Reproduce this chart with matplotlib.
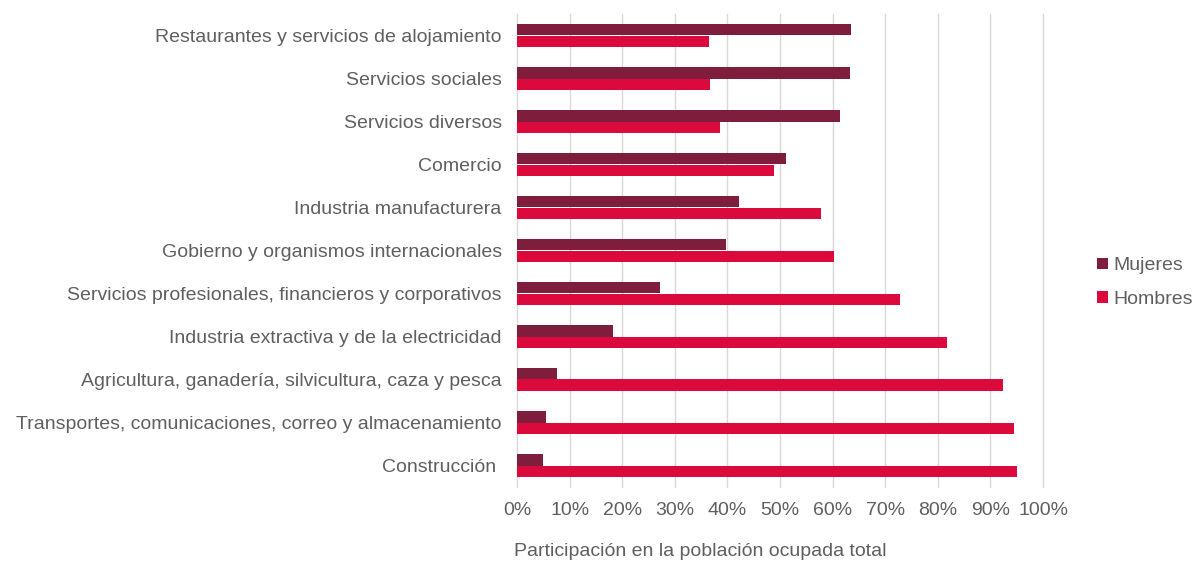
import numpy as np
import matplotlib.pyplot as plt
from matplotlib.ticker import PercentFormatter

plt.rcParams['font.family'] = ['Liberation Sans', 'DejaVu Sans']

sectores = [
    'Restaurantes y servicios de alojamiento',
    'Servicios sociales',
    'Servicios diversos',
    'Comercio',
    'Industria manufacturera',
    'Gobierno y organismos internacionales',
    'Servicios profesionales, financieros y corporativos',
    'Industria extractiva y de la electricidad',
    'Agricultura, ganadería, silvicultura, caza y pesca',
    'Transportes, comunicaciones, correo y almacenamiento',
    'Construcción ',
]
mujeres = [63.5, 63.3, 61.4, 51.1, 42.3, 39.7, 27.1, 18.2, 7.6, 5.5, 5.0]
hombres = [36.5, 36.7, 38.6, 48.9, 57.7, 60.3, 72.9, 81.8, 92.4, 94.5, 95.0]

c_muj = '#7F1E3C'
c_hom = '#DC0A3C'
gris = '#5F5F5F'
fs = 14

fig = plt.figure(figsize=(11.95, 5.61), dpi=100)
ax = fig.add_axes([517 / 1195, 1 - 487 / 561, (1043 - 517) / 1195, (487 - 14) / 561])

y = np.arange(len(sectores))
h = 0.275
ax.barh(y - h / 2, mujeres, height=h, color=c_muj, label='Mujeres', zorder=3)
ax.barh(y + h / 2, hombres, height=h, color=c_hom, label='Hombres', zorder=3)

ax.set_ylim(len(sectores) - 0.5, -0.5)
ax.set_xlim(0, 100)
ax.set_xticks(np.arange(0, 101, 10))
ax.xaxis.set_major_formatter(PercentFormatter(decimals=0))
ax.set_yticks(y)
ax.set_yticklabels(sectores)
ax.tick_params(axis='both', length=0, labelsize=fs, colors=gris)
ax.tick_params(axis='y', pad=11)
ax.tick_params(axis='x', pad=11)
ax.grid(axis='x', color='#D9D9D9', linewidth=1, zorder=0)
for gl in ax.get_xgridlines():
    gl.set_clip_on(False)
for s in ax.spines.values():
    s.set_visible(False)

fig.text(700 / 1195, 1 - 551 / 561, 'Participación en la población ocupada total',
         ha='center', va='center', fontsize=fs, color=gris)

leg = ax.legend(loc='center left', bbox_to_anchor=(1.085, 0.432), frameon=False,
                fontsize=fs, handlelength=0.55, handleheight=0.55, handletextpad=0.25,
                labelspacing=0.85, borderpad=0)
for t in leg.get_texts():
    t.set_color(gris)

fig.savefig('out.png', dpi=100)
